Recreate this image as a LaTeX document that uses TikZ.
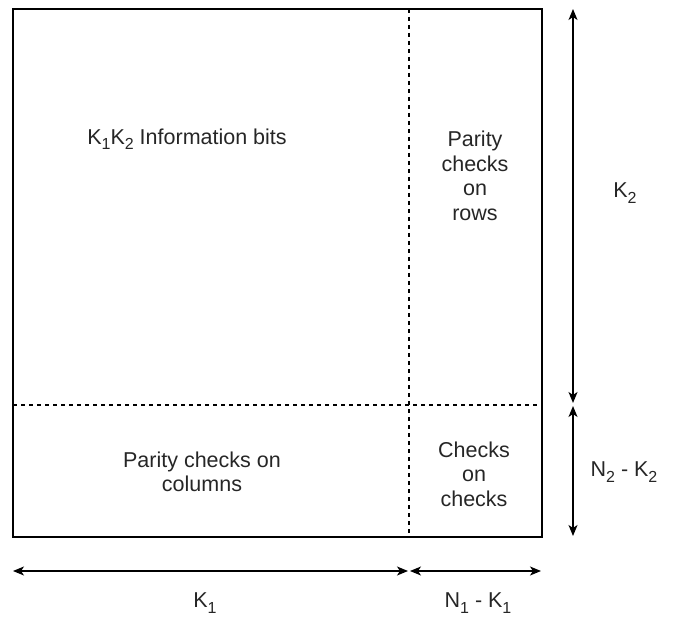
\documentclass[tikz,border=0pt]{standalone}
\usepackage{fontspec}
\setmainfont{Liberation Sans}
\usetikzlibrary{arrows.meta}
\newcommand{\sbs}[1]{\raisebox{-0.25em}{\fontsize{16}{16}\selectfont #1}}
\begin{document}
\begin{tikzpicture}[x=1pt,y=-1pt,
  lbl/.style={align=center,font=\fontsize{21.5}{24.5}\selectfont,inner sep=0pt,text=black!85},
  dim/.style={line width=1.4pt,{Stealth[length=11pt,width=9pt,inset=3pt]}-{Stealth[length=11pt,width=9pt,inset=3pt]}},
  part/.style={line width=1.3pt,dash pattern=on 4pt off 4pt}]
\useasboundingbox (0,0) rectangle (676,617);
\draw[line width=1.3pt] (13,9) rectangle (542,537);
\coordinate (vt) at (409,9);
\coordinate (vb) at (409,537);
\coordinate (hl) at (13,405);
\coordinate (hr) at (542,405);
\draw[part] (vt) -- (vb);
\draw[part] (hl) -- (hr);
\coordinate (a1) at (573,9);
\coordinate (a2) at (573,403);
\coordinate (a3) at (573,406);
\coordinate (a4) at (573,536);
\draw[dim] (a1) -- (a2);
\draw[dim] (a3) -- (a4);
\coordinate (b1) at (13,571);
\coordinate (b2) at (408,571);
\coordinate (b3) at (410,571);
\coordinate (b4) at (541,571);
\draw[dim] (b1) -- (b2);
\draw[dim] (b3) -- (b4);
\node[lbl] (info) at (187,139) {K\sbs{1}K\sbs{2} Information bits};
\node[lbl] (prow) at (475,176) {Parity\\checks\\on\\rows};
\node[lbl] (pcol) at (202,472) {Parity checks on\\columns};
\node[lbl] (coc) at (474,474) {Checks\\on\\checks};
\node[lbl] (k2) at (625,193) {K\sbs{2}};
\node[lbl] (nk2) at (624,472) {N\sbs{2} - K\sbs{2}};
\node[lbl] (k1) at (205,603) {K\sbs{1}};
\node[lbl] (nk1) at (478,603) {N\sbs{1} - K\sbs{1}};
\end{tikzpicture}
\end{document}
